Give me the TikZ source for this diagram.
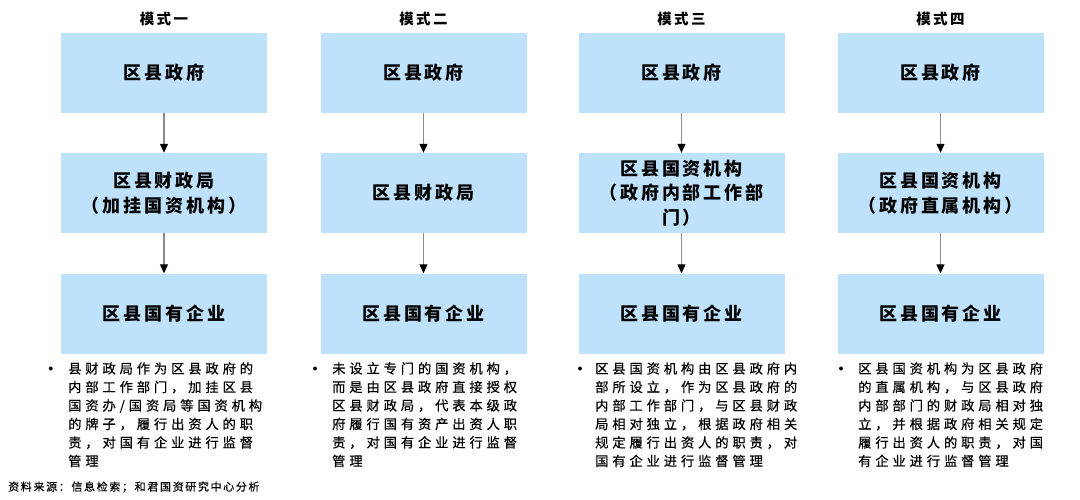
\documentclass[tikz,border=0pt]{standalone}
\usepackage{fontspec}
\setmainfont{Noto Sans CJK SC}
\newfontfamily\cjkbody[LetterSpace=29,FakeBold=0.5]{Noto Sans CJK SC}
\newfontfamily\cjkbox[LetterSpace=16]{Noto Sans CJK SC}
\newfontfamily\cjksrc[LetterSpace=15,FakeBold=0.4]{Noto Sans CJK SC}
\usetikzlibrary{arrows.meta}
\definecolor{boxblue}{RGB}{190,226,252}
\definecolor{linegray}{RGB}{140,140,140}
\begin{document}
\begin{tikzpicture}[x=1pt,y=-1pt,
  box/.style={fill=boxblue, draw=none, minimum width=206pt, minimum height=80pt, inner sep=0pt, align=center, font=\cjkbox\bfseries\fontsize{18}{24.5}\selectfont},
  ttl/.style={inner sep=0pt, font=\cjkbox\bfseries\fontsize{14.5}{16}\selectfont},
  body/.style={anchor=north west, inner sep=0pt, align=left, font=\cjkbody\fontsize{13.3}{18.5}\selectfont},
  bul/.style={inner sep=0pt, font=\fontsize{10}{10}\selectfont},
  src/.style={anchor=west, inner sep=0pt, font=\cjksrc\fontsize{11}{12}\selectfont},
  conn/.style={draw=linegray, line width=1.2pt, -{Triangle[length=9pt,width=8pt,color=black]}}]
\useasboundingbox (0,0) rectangle (1080,500);

% column 1
\node[ttl] (t1) at (164,19) {模式一};
\node[box] (a1) at (164,73) {区县政府};
\node[box] (b1) at (164,193) {区县财政局\\（加挂国资机构）};
\node[box] (c1) at (164,313.5) {区县国有企业};
\draw[conn] (a1) -- (b1);
\draw[conn] (b1) -- (c1);
\node[bul] (u1) at (51,369) {$\bullet$};
\node[body] (d1) at (68,362) {县财政局作为区县政府的\\内部工作部门，加挂区县\\国资办/国资局等国资机构\\的牌子，履行出资人的职\\责，对国有企业进行监督\\管理};

% column 2
\node[ttl] (t2) at (423.5,19) {模式二};
\node[box] (a2) at (423.5,73) {区县政府};
\node[box] (b2) at (423.5,193) {区县财政局};
\node[box] (c2) at (423.5,313.5) {区县国有企业};
\draw[conn] (a2) -- (b2);
\draw[conn] (b2) -- (c2);
\node[bul] (u2) at (315,369) {$\bullet$};
\node[body] (d2) at (332,362) {未设立专门的国资机构，\\而是由区县政府直接授权\\区县财政局，代表本级政\\府履行国有资产出资人职\\责，对国有企业进行监督\\管理};

% column 3
\node[ttl] (t3) at (681.5,19) {模式三};
\node[box] (a3) at (681.5,73) {区县政府};
\node[box] (b3) at (681.5,193) {区县国资机构\\（政府内部工作部\\门）};
\node[box] (c3) at (681.5,313.5) {区县国有企业};
\draw[conn] (a3) -- (b3);
\draw[conn] (b3) -- (c3);
\node[bul] (u3) at (580,369) {$\bullet$};
\node[body] (d3) at (595,362) {区县国资机构由区县政府内\\部所设立，作为区县政府的\\内部工作部门，与区县财政\\局相对独立，根据政府相关\\规定履行出资人的职责，对\\国有企业进行监督管理};

% column 4
\node[ttl] (t4) at (940.5,19) {模式四};
\node[box] (a4) at (940.5,73) {区县政府};
\node[box] (b4) at (940.5,193) {区县国资机构\\（政府直属机构）};
\node[box] (c4) at (940.5,313.5) {区县国有企业};
\draw[conn] (a4) -- (b4);
\draw[conn] (b4) -- (c4);
\node[bul] (u4) at (841,369) {$\bullet$};
\node[body] (d4) at (858,362) {区县国资机构为区县政府\\的直属机构，与区县政府\\内部部门的财政局相对独\\立，并根据政府相关规定\\履行出资人的职责，对国\\有企业进行监督管理};

% source
\node[src] (s) at (8,487) {资料来源：信息检索；和君国资研究中心分析};
\end{tikzpicture}
\end{document}
